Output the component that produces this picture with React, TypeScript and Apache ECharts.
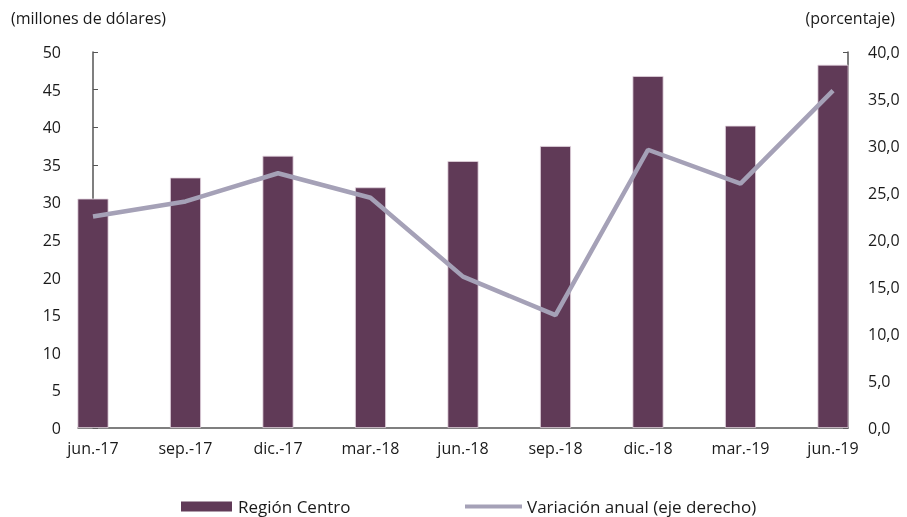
import React, { useEffect, useRef } from "react";
import * as echarts from "echarts";

const categories = ["jun.-17", "sep.-17", "dic.-17", "mar.-18", "jun.-18", "sep.-18", "dic.-18", "mar.-19", "jun.-19"];
const regionCentro = [30.5, 33.3, 36.2, 32.0, 35.5, 37.5, 46.8, 40.2, 48.3];
const variacionAnual = [22.5, 24.1, 27.1, 24.5, 16.1, 12.0, 29.6, 26.0, 35.9];
const leftTicks = [0, 5, 10, 15, 20, 25, 30, 35, 40, 45, 50];
const rightTicks = [0, 5, 10, 15, 20, 25, 30, 35, 40];

const FONT = "Open Sans";
const FS = 16;
const TXT = "#1a1a1a";
const AXIS = "#555555";
const BAR = "#603A57";
const LINE = "#A5A1B7";

export default function App() {
  const ref = useRef<HTMLDivElement>(null);
  useEffect(() => {
    if (!ref.current) return;
    const chart = echarts.init(ref.current, null, { renderer: "svg" });
    const idx = categories.map((_, i) => i);
    chart.setOption({
      animation: false,
      textStyle: { fontFamily: FONT, color: TXT },
      title: [
        { text: "(millones de dólares)", left: 11, top: 10, padding: 0, textStyle: { fontFamily: FONT, fontSize: FS, fontWeight: "normal", color: TXT } },
        { text: "(porcentaje)", right: 12, top: 10, padding: 0, textStyle: { fontFamily: FONT, fontSize: FS, fontWeight: "normal", color: TXT } },
      ],
      legend: [
        {
          data: [{ name: "Región Centro", icon: "rect", itemStyle: { color: BAR, borderWidth: 0 } }],
          left: 176, top: 493, itemWidth: 51, itemHeight: 10, itemGap: 5,
          textStyle: { fontFamily: FONT, fontSize: 17, color: TXT, padding: [0, 0, 0, 1] },
        },
        {
          data: [{ name: "Variación anual (eje derecho)", icon: "rect", itemStyle: { color: LINE } }],
          left: 460, top: 493, itemWidth: 57, itemHeight: 4,
          textStyle: { fontFamily: FONT, fontSize: 17, color: TXT, padding: [0, 0, 0, 0] },
        },
      ],
      grid: { left: 78, right: 59, top: 52, bottom: 89 },
      xAxis: {
        type: "value",
        min: -0.162,
        max: 8.162,
        splitLine: { show: false },
        axisLine: { show: true, onZero: false, lineStyle: { color: AXIS, width: 1.5 } },
        axisTick: { show: false },
        axisLabel: {
          customValues: idx,
          formatter: (v: number) => categories[Math.round(v)] ?? "",
          fontFamily: FONT,
          fontSize: FS,
          color: TXT,
          margin: 12,
        },
      },
      yAxis: [
        {
          type: "value",
          min: 0,
          max: 50,
          interval: 5,
          splitLine: { show: false },
          axisLine: { show: true, lineStyle: { color: AXIS, width: 1.5 } },
          axisTick: { show: true, inside: true, length: 5, lineStyle: { color: AXIS } },
          axisLabel: {
            customValues: leftTicks,
            fontFamily: FONT, fontSize: FS, color: TXT, margin: 17,
          },
        },
        {
          type: "value",
          min: 0,
          max: 40,
          interval: 5,
          position: "right",
          splitLine: { show: false },
          axisLine: { show: true, lineStyle: { color: AXIS, width: 1.5 } },
          axisTick: { show: true, inside: true, length: 5, lineStyle: { color: AXIS } },
          axisLabel: {
            customValues: rightTicks,
            formatter: (v: number) => v.toFixed(1).replace(".", ","),
            fontFamily: FONT, fontSize: FS, color: TXT, margin: 20,
          },
        },
      ],
      series: [
        {
          name: "Región Centro",
          type: "bar",
          yAxisIndex: 0,
          barWidth: 31,
          itemStyle: { color: BAR, borderColor: "#e3d6df", borderWidth: 0.8 },
          data: regionCentro.map((v, i) => [i, v]),
          z: 2,
        },
        {
          name: "Variación anual (eje derecho)",
          type: "line",
          yAxisIndex: 1,
          symbol: "none",
          lineStyle: { color: LINE, width: 4.5 },
          itemStyle: { color: LINE },
          data: variacionAnual.map((v, i) => [i, v]),
          z: 3,
        },
      ],
    });
    return () => chart.dispose();
  }, []);
  return <div ref={ref} style={{ position: "fixed", left: 0, top: 0, width: 907, height: 517 }} />;
}
